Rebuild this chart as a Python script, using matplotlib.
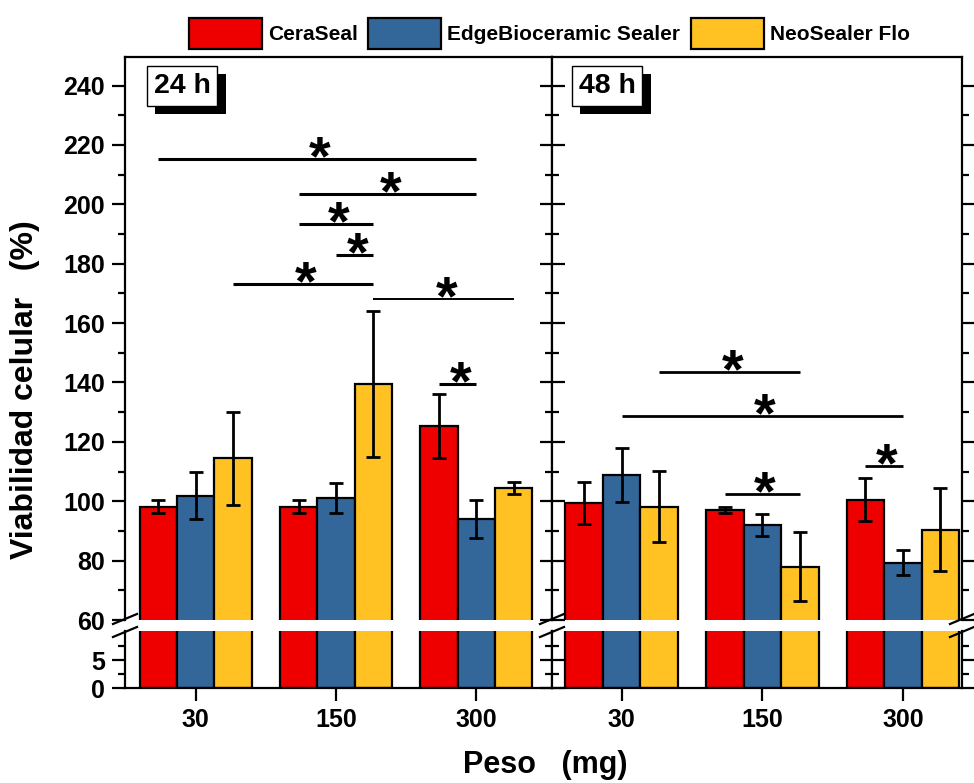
import numpy as np
import matplotlib
matplotlib.use("Agg")
import matplotlib.pyplot as plt
from matplotlib.patches import Patch
from matplotlib.lines import Line2D
from matplotlib.ticker import MultipleLocator, FixedLocator
import matplotlib.patheffects as pe

plt.rcParams['font.family'] = ['Liberation Sans', 'DejaVu Sans']
plt.rcParams['font.weight'] = 'bold'

# data
pesos = ['30', '150', '300']
series = ['CeraSeal', 'EdgeBioceramic Sealer', 'NeoSealer Flo']
colors = ['#EE0000', '#336699', '#FFC222']

vals_24 = [[98.2, 98.2, 125.4],
           [101.9, 101.0, 94.1],
           [114.5, 139.5, 104.6]]
err_24 = [[2.1, 2.1, 10.7],
          [8.0, 5.0, 6.4],
          [15.7, 24.5, 2.0]]

vals_48 = [[99.4, 97.1, 100.5],
           [108.9, 92.0, 79.3],
           [98.2, 78.0, 90.4]]
err_48 = [[7.2, 1.1, 7.2],
          [9.0, 3.8, 4.3],
          [12.0, 11.7, 14.0]]

# significance: (group, series) -> (group, series), y, linewidth
sig_24 = [((0, 0), (2, 1), 215.1, 2.2),
          ((1, 0), (2, 1), 203.6, 2.2),
          ((1, 0), (1, 2), 193.2, 2.2),
          ((1, 1), (1, 2), 182.9, 2.2),
          ((0, 2), (1, 2), 173.3, 2.2),
          ((1, 2), (2, 2), 168.2, 1.4),
          ((2, 0), (2, 1), 139.6, 2.2)]
sig_48 = [((0, 2), (1, 2), 143.4, 2.0),
          ((0, 1), (2, 1), 128.6, 2.0),
          ((2, 0), (2, 1), 111.9, 2.0),
          ((1, 0), (1, 2), 102.4, 2.0)]

W, H = 974, 783
fig = plt.figure(figsize=(W / 100, H / 100), dpi=100)

L, M, R = 125 / W, 552 / W, 962 / W
up_b, up_t = 1 - 620 / H, 1 - 56.7 / H
lo_b, lo_t = 1 - 688 / H, 1 - 631 / H

ax_ul = fig.add_axes([L, up_b, M - L, up_t - up_b])
ax_ll = fig.add_axes([L, lo_b, M - L, lo_t - lo_b])
ax_ur = fig.add_axes([M, up_b, R - M, up_t - up_b])
ax_lr = fig.add_axes([M, lo_b, R - M, lo_t - lo_b])

bw = 0.8 / 3
x = np.arange(len(pesos))


def set_y(ax, upper):
    if upper:
        ax.set_ylim(60, 249.7)
        ax.yaxis.set_major_locator(MultipleLocator(20))
        ax.yaxis.set_minor_locator(MultipleLocator(10))
    else:
        ax.set_ylim(0, 10.2)
        ax.yaxis.set_major_locator(FixedLocator([0, 5]))
        ax.yaxis.set_minor_locator(FixedLocator([2.5, 7.5]))


def draw_bars(ax_u, ax_l, vals, errs, xlim):
    for i in range(3):
        xs = x + (i - 1) * bw
        for ax in (ax_u, ax_l):
            ax.bar(xs, vals[i], width=bw, color=colors[i], edgecolor='black',
                   linewidth=1.6, zorder=2)
        ax_u.errorbar(xs, vals[i], yerr=errs[i], fmt='none', ecolor='black',
                      elinewidth=2, capsize=5, capthick=2, zorder=3)
    set_y(ax_u, True)
    set_y(ax_l, False)
    for ax in (ax_u, ax_l):
        ax.set_xlim(*xlim)
        for s in ax.spines.values():
            s.set_linewidth(1.6)
    ax_u.spines['bottom'].set_visible(False)
    ax_l.spines['top'].set_visible(False)
    ax_u.set_xticks([])
    ax_l.set_xticks(x)
    ax_l.set_xticklabels(pesos)
    ax_l.tick_params(axis='x', direction='out', length=9.5, width=1.6,
                     labelsize=18, pad=5, top=False)


def draw_sig(ax, sigs):
    for (g0, s0), (g1, s1), y, lw in sigs:
        x0 = g0 + (s0 - 1) * bw
        x1 = g1 + (s1 - 1) * bw
        ax.plot([x0, x1], [y, y], color='black', lw=lw, solid_capstyle='butt',
                zorder=4)
        ax.annotate('*', xy=((x0 + x1) / 2, y), xytext=(2, -11),
                    textcoords='offset points', ha='center', va='baseline',
                    fontsize=40, fontweight='bold', zorder=5)


draw_bars(ax_ul, ax_ll, vals_24, err_24, (-0.504, 2.54))
draw_bars(ax_ur, ax_lr, vals_48, err_48, (-0.496, 2.42))
draw_sig(ax_ul, sig_24)
draw_sig(ax_ur, sig_48)

# ticks
for ax in (ax_ul, ax_ll):
    ax.tick_params(axis='y', which='major', direction='out', length=9.5,
                   width=1.6, labelsize=18, pad=5, right=False)
    ax.tick_params(axis='y', which='minor', direction='out', length=5,
                   width=1.6, right=False)
for ax, upper in ((ax_ur, True), (ax_lr, False)):
    ax.tick_params(axis='y', which='major', direction='inout', length=18,
                   width=1.6, labelleft=False, right=False)
    ax.tick_params(axis='y', which='minor', direction='inout', length=10,
                   width=1.6, labelleft=False, right=False)
    tw = ax.twinx()
    set_y(tw, upper)
    for s in tw.spines.values():
        s.set_visible(False)
    tw.tick_params(axis='y', which='major', direction='out', length=9.5,
                   width=1.6, labelright=False)
    tw.tick_params(axis='y', which='minor', direction='out', length=5,
                   width=1.6, labelright=False)

# panel labels with shadow
for ax, lab, xa in ((ax_ul, '24 h', 0.1335), (ax_ur, '48 h', 0.134)):
    t = ax.text(xa, 0.948, lab, transform=ax.transAxes, ha='center',
                va='center', fontsize=20.5, zorder=7,
                bbox=dict(boxstyle='square,pad=0.24', fc='white', ec='black',
                          lw=1))
    t.get_bbox_patch().set_path_effects(
        [pe.SimplePatchShadow(offset=(6, -6), shadow_rgbFace='black',
                              alpha=1.0), pe.Normal()])

# break marks
dx, dy = 12 / W, 5 / H
for xs in (L, M, R):
    for ys in (up_b + 1 / H, lo_t - 1 / H):
        fig.add_artist(Line2D([xs - dx, xs + dx], [ys - dy, ys + dy],
                              color='black', lw=1.6))

handles = [Patch(facecolor=c, edgecolor='black', linewidth=1.6) for c in colors]
fig.legend(handles, series, loc='center', bbox_to_anchor=(0.564, 0.957),
           ncol=3, frameon=False, fontsize=15, handlelength=3.5,
           handleheight=1.9, handletextpad=0.3, columnspacing=0.5)

fig.text(0.026, 0.502, 'Viabilidad celular   (%)', rotation=90, ha='center',
         va='center', fontsize=23, fontweight='bold')
fig.text(0.5596, 0.023, 'Peso   (mg)', ha='center', va='center',
         fontsize=22, fontweight='bold')

fig.savefig('out.png', dpi=100)
